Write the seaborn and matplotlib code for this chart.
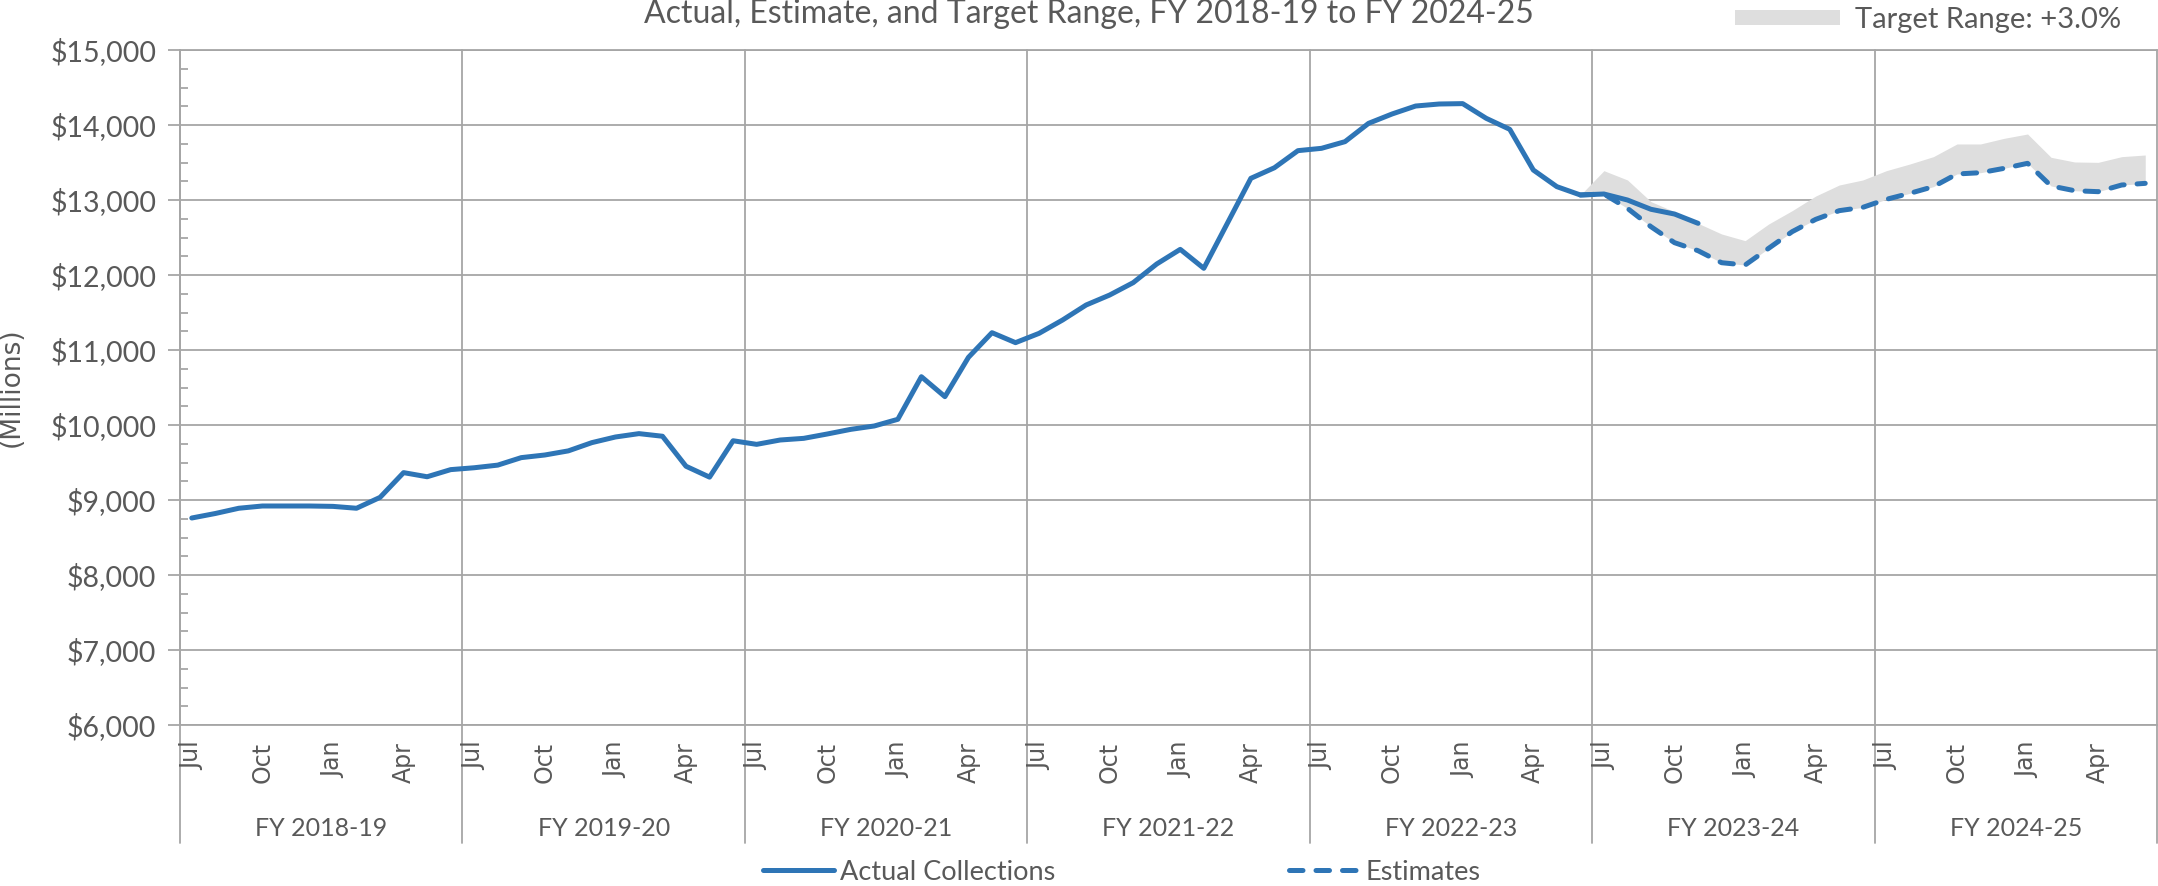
import numpy as np
import pandas as pd
import matplotlib
matplotlib.use("Agg")
import matplotlib.pyplot as plt
import matplotlib.transforms as mtransforms
from matplotlib.patches import Patch
from matplotlib.ticker import FuncFormatter, MultipleLocator
import seaborn as sns

# ---------------- data ----------------
fiscal_years = ["FY 2018-19", "FY 2019-20", "FY 2020-21", "FY 2021-22",
                "FY 2022-23", "FY 2023-24", "FY 2024-25"]
months = ["Jul", "Aug", "Sep", "Oct", "Nov", "Dec",
          "Jan", "Feb", "Mar", "Apr", "May", "Jun"]
shown_months = ["Jul", "Oct", "Jan", "Apr"]

# Actual collections, Jul 2018 - Nov 2023 ($ millions)
actual = [
    8760, 8820, 8890, 8920, 8920, 8920, 8915, 8890, 9035, 9365, 9310, 9405,
    9430, 9465, 9565, 9600, 9655, 9765, 9840, 9885, 9850, 9450, 9305, 9790,
    9742, 9800, 9822, 9880, 9942, 9987, 10076, 10644, 10378, 10902, 11231, 11098,
    11222, 11400, 11600, 11733, 11898, 12147, 12342, 12089, 12689, 13289, 13430, 13658,
    13689, 13778, 14022, 14147, 14253, 14280, 14285, 14089, 13942, 13400, 13178, 13067,
    13080, 13000, 12876, 12813, 12689,
]
# Estimates, Jun 2023 - Jun 2025
estimates = [
    13067,
    13080, 12889, 12644, 12431, 12324, 12164, 12133, 12356, 12578, 12742, 12858, 12902,
    13009, 13089, 13178, 13347, 13364, 13422, 13489, 13187, 13124, 13111, 13200, 13222,
]
# Target range upper bound (+3.0%), Jun 2023 - Jun 2025
target_upper = [
    13067,
    13391, 13267, 12978, 12844, 12689, 12547, 12458, 12680, 12858, 13053, 13200, 13267,
    13391, 13480, 13578, 13747, 13747, 13822, 13880, 13569, 13507, 13502, 13578, 13600,
]
estimate_start = 59  # Jun 2023 index

# ---------------- style ----------------
W, H = 2158, 886
BLUE = "#2E75B6"
GRID = "#A6A6A6"
TXT = "#595959"
BAND = "#DEDEDE"

sns.set_theme(style="white")
plt.rcParams["font.family"] = ["Lato", "DejaVu Sans"]

fig = plt.figure(figsize=(W / 100, H / 100), dpi=100)
ax = fig.add_axes([180 / W, 161 / H, (2157 - 180) / W, 675 / H])

n_months = len(fiscal_years) * 12
df_act = pd.DataFrame({"x": np.arange(len(actual)) + 0.5, "value": actual})
est_x = np.arange(estimate_start, estimate_start + len(estimates)) + 0.5
df_est = pd.DataFrame({"x": est_x, "value": estimates, "upper": target_upper})

ax.fill_between(df_est["x"], df_est["value"], df_est["upper"], color=BAND,
                lw=0, zorder=1)
sns.lineplot(data=df_est, x="x", y="value", ax=ax, color=BLUE, lw=3.6,
             label="Estimates", zorder=3)
est_line = ax.lines[-1]
est_line.set_linestyle((0, (2.7, 2.6)))
est_line.set_dash_capstyle("round")
sns.lineplot(data=df_act, x="x", y="value", ax=ax, color=BLUE, lw=3.6,
             label="Actual Collections", zorder=4)
act_line = ax.lines[-1]
act_line.set_solid_capstyle("round")
act_line.set_solid_joinstyle("round")

# axes limits / ticks
ax.set_xlim(0, n_months)
ax.set_ylim(6000, 15000)
ax.yaxis.set_major_locator(MultipleLocator(1000))
ax.yaxis.set_minor_locator(MultipleLocator(250))
ax.yaxis.set_major_formatter(FuncFormatter(lambda v, p: f"${v:,.0f}"))
ax.tick_params(axis="y", which="major", direction="out", length=9, width=1.3,
               color=GRID, labelsize=20.5, labelcolor=TXT, pad=8, left=True)
ax.tick_params(axis="y", which="minor", direction="in", length=6, width=1.3,
               color=GRID, left=True)

tick_pos, tick_lab = [], []
for f in range(len(fiscal_years)):
    for m, name in enumerate(months):
        if name in shown_months:
            tick_pos.append(f * 12 + m + 0.5)
            tick_lab.append(name)
ax.set_xticks(tick_pos)
ax.set_xticklabels(tick_lab, rotation=90, fontsize=17, color=TXT,
                   family="DejaVu Sans")
ax.tick_params(axis="x", length=0, pad=12)

ax.set_xlabel("")
ax.set_ylabel("(Millions)", fontsize=19, color=TXT, family="DejaVu Sans")
ax.yaxis.set_label_coords(-(180 - 25) / (2157 - 180), 0.5)

ax.grid(False)
ax.yaxis.grid(True, which="major", color=GRID, lw=1.3, zorder=0)
for s in ["top", "bottom", "left", "right"]:
    ax.spines[s].set_color(GRID)
    ax.spines[s].set_linewidth(1.3)
ax.spines["right"].set_visible(False)

# fiscal-year separators extending into the label area
ext = -(843 - 725) / 675
for f in range(len(fiscal_years) + 1):
    ax.axvline(f * 12, ymin=ext, ymax=1, color=GRID, lw=1.3, clip_on=False,
               zorder=0.5)

# fiscal-year labels
trans = mtransforms.blended_transform_factory(ax.transData, ax.transAxes)
fy_y = -(828 - 725) / 675
for f, fy in enumerate(fiscal_years):
    ax.text(f * 12 + 6, fy_y, fy, transform=trans, ha="center", va="center",
            fontsize=18, color=TXT)

# title
fig.text(1089 / W, 1 - 14 / H,
         "Actual, Estimate, and Target Range, FY 2018-19 to FY 2024-25",
         ha="center", va="center", fontsize=23, color=TXT)

# legends
if ax.legend_:
    ax.legend_.remove()
leg = fig.legend([act_line, est_line], ["Actual Collections", "Estimates"],
                 loc="center", bbox_to_anchor=(1122 / W, 1 - 872 / H), ncol=2,
                 frameon=False, fontsize=19.5, handlelength=2.6,
                 handletextpad=0.25, columnspacing=8.6, borderpad=0,
                 labelcolor=TXT)
leg2 = fig.legend([Patch(facecolor=BAND, edgecolor="none")],
                  ["Target Range: +3.0%"], loc="center",
                  bbox_to_anchor=(1928 / W, 1 - 20 / H), frameon=False,
                  fontsize=21, handlelength=3.6, handleheight=0.45,
                  handletextpad=0.5, borderpad=0, labelcolor=TXT)

fig.savefig("out.png", dpi=100, facecolor="white")
